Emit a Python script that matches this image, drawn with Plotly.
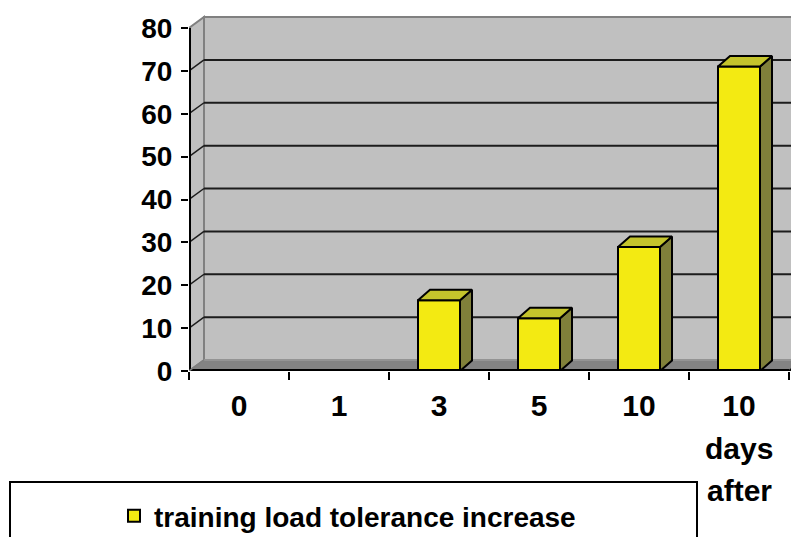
import plotly.graph_objects as go

# ---------------- data ----------------
categories = ["0", "1", "3", "5", "10", "10 days after"]
tick_labels = ["0", "1", "3", "5", "10", "10"]
extra_label_lines = ["days", "after"]
values = [0, 0, 16.5, 12.3, 28.9, 71.0]
series_name = "training load tolerance increase"
y_ticks = [0, 10, 20, 30, 40, 50, 60, 70, 80]

# ---------------- styling / geometry ----------------
OFF = 8                     # page body margin of the browser
W, H = 799 - 2 * OFF, 545 - 2 * OFF
PLOT_L, PLOT_T, PLOT_B = 189, 10, 371      # page pixel targets
ML = PLOT_L - OFF
MT = PLOT_T - OFF
MB = (H + OFF) - PLOT_B
MR = 0
PX_PER_X = 100.0
PX_PER_Y = 343.0 / 80.0
plot_w = W - ML - MR
plot_h = H - MT - MB
x_lo = -0.5
x_hi = x_lo + plot_w / PX_PER_X
y_hi = plot_h / PX_PER_Y
y_top = y_ticks[-1]
n = len(categories)

WX, WY = 15 / PX_PER_X, 11 / PX_PER_Y        # wall depth
BX, BY = 12 / PX_PER_X, 10.5 / PX_PER_Y      # bar depth
BAR_W = 0.42

FONT = "Liberation Sans, Arial, sans-serif"
WALL = "#c0c0c0"
WALL_EDGE = "#808080"
FLOOR = "#838383"
GRID = "#1c1c1c"
FRONT = "#f3ea12"
TOP = "#c4c42c"
SIDE = "#80803a"

x_pos = list(range(n))

fig = go.Figure()

# front faces of the bars
fig.add_trace(go.Bar(
    x=x_pos, y=values, width=BAR_W, name=series_name,
    marker=dict(color=FRONT, line=dict(color="black", width=2)),
    hoverinfo="skip", showlegend=True,
))

# 3D top and side faces, computed from the values
for xi, v in zip(x_pos, values):
    if not v:
        continue
    x0, x1 = xi - BAR_W / 2, xi + BAR_W / 2
    fig.add_trace(go.Scatter(
        x=[x1, x1, x1 + BX, x1 + BX, x1], y=[0, v, v + BY, BY, 0],
        mode="lines", fill="toself", fillcolor=SIDE,
        line=dict(color="black", width=2), hoverinfo="skip", showlegend=False,
    ))
    fig.add_trace(go.Scatter(
        x=[x0, x0 + BX, x1 + BX, x1, x0], y=[v, v + BY, v + BY, v, v],
        mode="lines", fill="toself", fillcolor=TOP,
        line=dict(color="black", width=2), hoverinfo="skip", showlegend=False,
    ))

shapes = []
# back wall
shapes.append(dict(type="rect", xref="x", yref="y", layer="below",
                   x0=x_lo + WX, x1=x_hi + 1, y0=WY, y1=y_top + WY,
                   fillcolor=WALL, line=dict(color=WALL_EDGE, width=2)))
# side wall
shapes.append(dict(type="path", xref="x", yref="y", layer="below",
                   path=f"M{x_lo},0 L{x_lo+WX},{WY} L{x_lo+WX},{y_top+WY} L{x_lo},{y_top} Z",
                   fillcolor=WALL, line=dict(color=WALL_EDGE, width=2)))
# floor
x_end = n - 0.5
shapes.append(dict(type="path", xref="x", yref="y", layer="below",
                   path=f"M{x_lo},0 L{x_end},0 L{x_end+WX},{WY} L{x_lo+WX},{WY} Z",
                   fillcolor=FLOOR, line=dict(width=0)))
shapes.append(dict(type="line", xref="x", yref="y", layer="below",
                   x0=x_lo + WX, x1=x_hi + 1, y0=WY, y1=WY,
                   line=dict(color="#9a9a9a", width=1.5)))
# gridlines (back wall + side wall diagonals)
for k in y_ticks[1:-1]:
    shapes.append(dict(type="line", xref="x", yref="y", layer="below",
                       x0=x_lo + WX, x1=x_hi + 1, y0=k + WY, y1=k + WY,
                       line=dict(color=GRID, width=2)))
    shapes.append(dict(type="line", xref="x", yref="y", layer="below",
                       x0=x_lo, x1=x_lo + WX, y0=k, y1=k + WY,
                       line=dict(color=GRID, width=1.5)))
# front axes
shapes.append(dict(type="line", xref="x", yref="y", layer="above",
                   x0=x_lo, x1=x_lo, y0=0, y1=y_top, line=dict(color="black", width=4)))
shapes.append(dict(type="line", xref="x", yref="y", layer="above",
                   x0=x_lo, x1=x_end, y0=0, y1=0, line=dict(color="black", width=4)))
shapes.append(dict(type="line", xref="x", yref="y", layer="above",
                   x0=x_end, x1=x_end + WX, y0=0, y1=WY, line=dict(color="black", width=2)))
shapes.append(dict(type="line", xref="x", yref="y", layer="above",
                   x0=x_lo, x1=x_lo + WX, y0=0, y1=WY, line=dict(color=WALL_EDGE, width=1.5)))

# helpers: page pixel -> paper coords of the plot area
def px_to_paper_x(px):
    return (px - PLOT_L) / plot_w

def py_to_paper_y(py):
    return (PLOT_B - py) / plot_h

# legend box
shapes.append(dict(type="rect", xref="paper", yref="paper",
                   x0=px_to_paper_x(10), x1=px_to_paper_x(697),
                   y0=py_to_paper_y(570), y1=py_to_paper_y(482),
                   fillcolor="rgba(0,0,0,0)", line=dict(color="black", width=2)))

annotations = []
for i, txt in enumerate(extra_label_lines):
    annotations.append(dict(text=txt, xref="x", yref="paper", x=n - 1,
                            y=py_to_paper_y(448 + 42 * i), showarrow=False,
                            xanchor="center", yanchor="middle",
                            font=dict(family=FONT, size=30, color="black", weight="bold")))

fig.update_layout(
    width=W, height=H, autosize=False,
    margin=dict(l=ML, r=MR, t=MT, b=MB, pad=0, autoexpand=False),
    paper_bgcolor="white", plot_bgcolor="rgba(0,0,0,0)",
    shapes=shapes, annotations=annotations,
    showlegend=True,
    legend=dict(orientation="h", x=px_to_paper_x(114), y=py_to_paper_y(516),
                xanchor="left", yanchor="middle", bgcolor="rgba(0,0,0,0)",
                borderwidth=0,
                font=dict(family=FONT, size=28, color="black", weight="bold")),
    xaxis=dict(range=[x_lo, x_hi], tickmode="array", tickvals=x_pos, ticktext=tick_labels,
               ticks="", showgrid=False, zeroline=False, showline=False,
               tickfont=dict(family=FONT, size=30, color="black", weight="bold"),
               ticklabelstandoff=14,
               minor=dict(tickmode="array", tickvals=[i - 0.5 for i in range(n + 1)],
                          ticks="outside", ticklen=8, tickwidth=2, tickcolor="black",
                          showgrid=False)),
    yaxis=dict(range=[0, y_hi], tickmode="array", tickvals=y_ticks,
               ticks="outside", ticklen=7, tickwidth=2, tickcolor="black",
               showgrid=False, zeroline=False, showline=False,
               ticklabelstandoff=3,
               tickfont=dict(family=FONT, size=28, color="black", weight="bold")),
    bargap=0.5,
)

fig.write_html("out.html")
